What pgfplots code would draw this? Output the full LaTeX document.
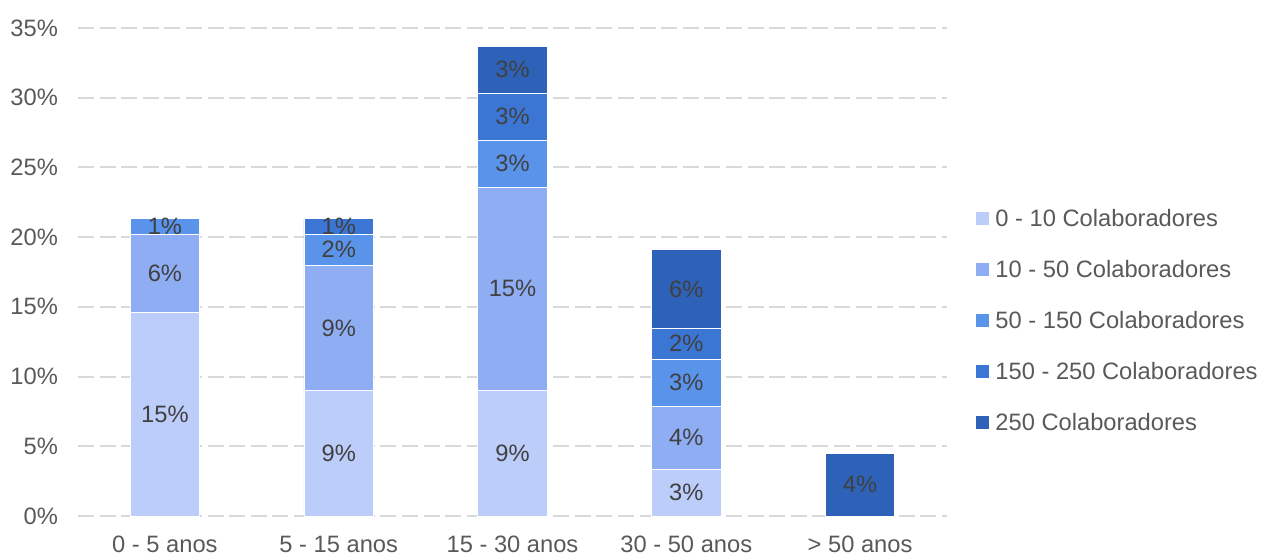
\documentclass[border=0pt]{standalone}
\usepackage{pgfplots}
\pgfplotsset{compat=1.18}
\usepackage{pgfplotstable}
\usepackage{fontspec}
\setmainfont{Liberation Sans}

\pgfplotsset{/pgf/number format/assume math mode=true}

\definecolor{c1}{HTML}{BDCDF9}
\definecolor{c2}{HTML}{8FADF3}
\definecolor{c3}{HTML}{5A93EA}
\definecolor{c4}{HTML}{3B76D4}
\definecolor{c5}{HTML}{2E62B8}
\definecolor{ticktext}{HTML}{595959}
\definecolor{labeltext}{HTML}{404040}
\definecolor{gridgray}{HTML}{D9D9D9}
\newcommand\chartfont{\fontsize{11.85pt}{14pt}\selectfont}

% share of respondents (%) per company age, by company size
\pgfplotstableread{
x v
0 14.607
1 8.989
2 8.989
3 3.371
4 0
}\sizeA
\pgfplotstableread{
x v
0 5.618
1 8.989
2 14.607
3 4.494
4 0
}\sizeB
\pgfplotstableread{
x v
0 1.124
1 2.247
2 3.371
3 3.371
4 0
}\sizeC
\pgfplotstableread{
x v
0 0
1 1.124
2 3.371
3 2.247
4 0
}\sizeD
\pgfplotstableread{
x v
0 0
1 0
2 3.371
3 5.618
4 4.494
}\sizeE

% label positions: middle of each stacked segment, with the segment value
\pgfplotstableread{
x y v
0 7.303 14.607
0 17.416 5.618
0 20.787 1.124
1 4.494 8.989
1 13.483 8.989
1 19.101 2.247
1 20.787 1.124
2 4.494 8.989
2 16.292 14.607
2 25.281 3.371
2 28.652 3.371
2 32.022 3.371
3 1.685 3.371
3 5.618 4.494
3 9.551 3.371
3 12.360 2.247
3 16.292 5.618
4 2.247 4.494
}\segmentlabels

\begin{document}
\begin{tikzpicture}[font=\chartfont]
\pgfplotsset{
  frame/.style={
    at={(0,0)}, anchor=south west, scale only axis,
    width=434.5pt, height=244pt,
    xmin=-0.5, xmax=4.5, ymin=0, ymax=35,
  }
}
\begin{axis}[frame,
  ybar stacked, bar width=0.4,
  axis line style={draw=none}, major tick length=0pt,
  xtick={0,...,4},
  xticklabels={0 - 5 anos, 5 - 15 anos, 15 - 30 anos, 30 - 50 anos, > 50 anos},
  ytick={0,5,...,35},
  yticklabels={0\%,5\%,10\%,15\%,20\%,25\%,30\%,35\%},
  tick label style={font=\chartfont, text=ticktext},
  xticklabel style={yshift=-6.5pt},
  yticklabel style={xshift=-6.5pt},
  ymajorgrids,
  major grid style={gridgray, line width=1pt, dash pattern=on 8pt off 2.8pt},
  legend cell align=left,
  legend style={at={(1.0334,0.4016)}, anchor=west, draw=none, fill=none,
    inner sep=0pt, font=\chartfont, text=ticktext, row sep=17pt,
    nodes={inner xsep=3pt, inner ysep=0pt, text height=8.5pt, text depth=0pt, anchor=west}},
  legend image code/.code={\fill[#1, draw=none] (0pt,-3.25pt) rectangle (6.5pt,3.25pt);},
  every axis plot/.append style={draw=white, line width=0.4pt},
]
\addplot[fill=c1] table[x=x, y=v] {\sizeA};
\addplot[fill=c2] table[x=x, y=v] {\sizeB};
\addplot[fill=c3] table[x=x, y=v] {\sizeC};
\addplot[fill=c4] table[x=x, y=v] {\sizeD};
\addplot[fill=c5] table[x=x, y=v] {\sizeE};
\legend{0 - 10 Colaboradores, 10 - 50 Colaboradores, 50 - 150 Colaboradores,
  150 - 250 Colaboradores, 250 Colaboradores}
\end{axis}

\begin{axis}[frame, hide axis]
\addplot[draw=none, mark=none, point meta=explicit,
  nodes near coords={\pgfmathprintnumber[fixed, precision=0]{\pgfplotspointmeta}\%},
  nodes near coords style={anchor=center, font=\chartfont, text=labeltext}]
  table[x=x, y=y, meta=v] {\segmentlabels};
\end{axis}

\pgfresetboundingbox
\path[use as bounding box] (-39pt,-20pt) rectangle (591.5pt,258pt);
\end{tikzpicture}
\end{document}
